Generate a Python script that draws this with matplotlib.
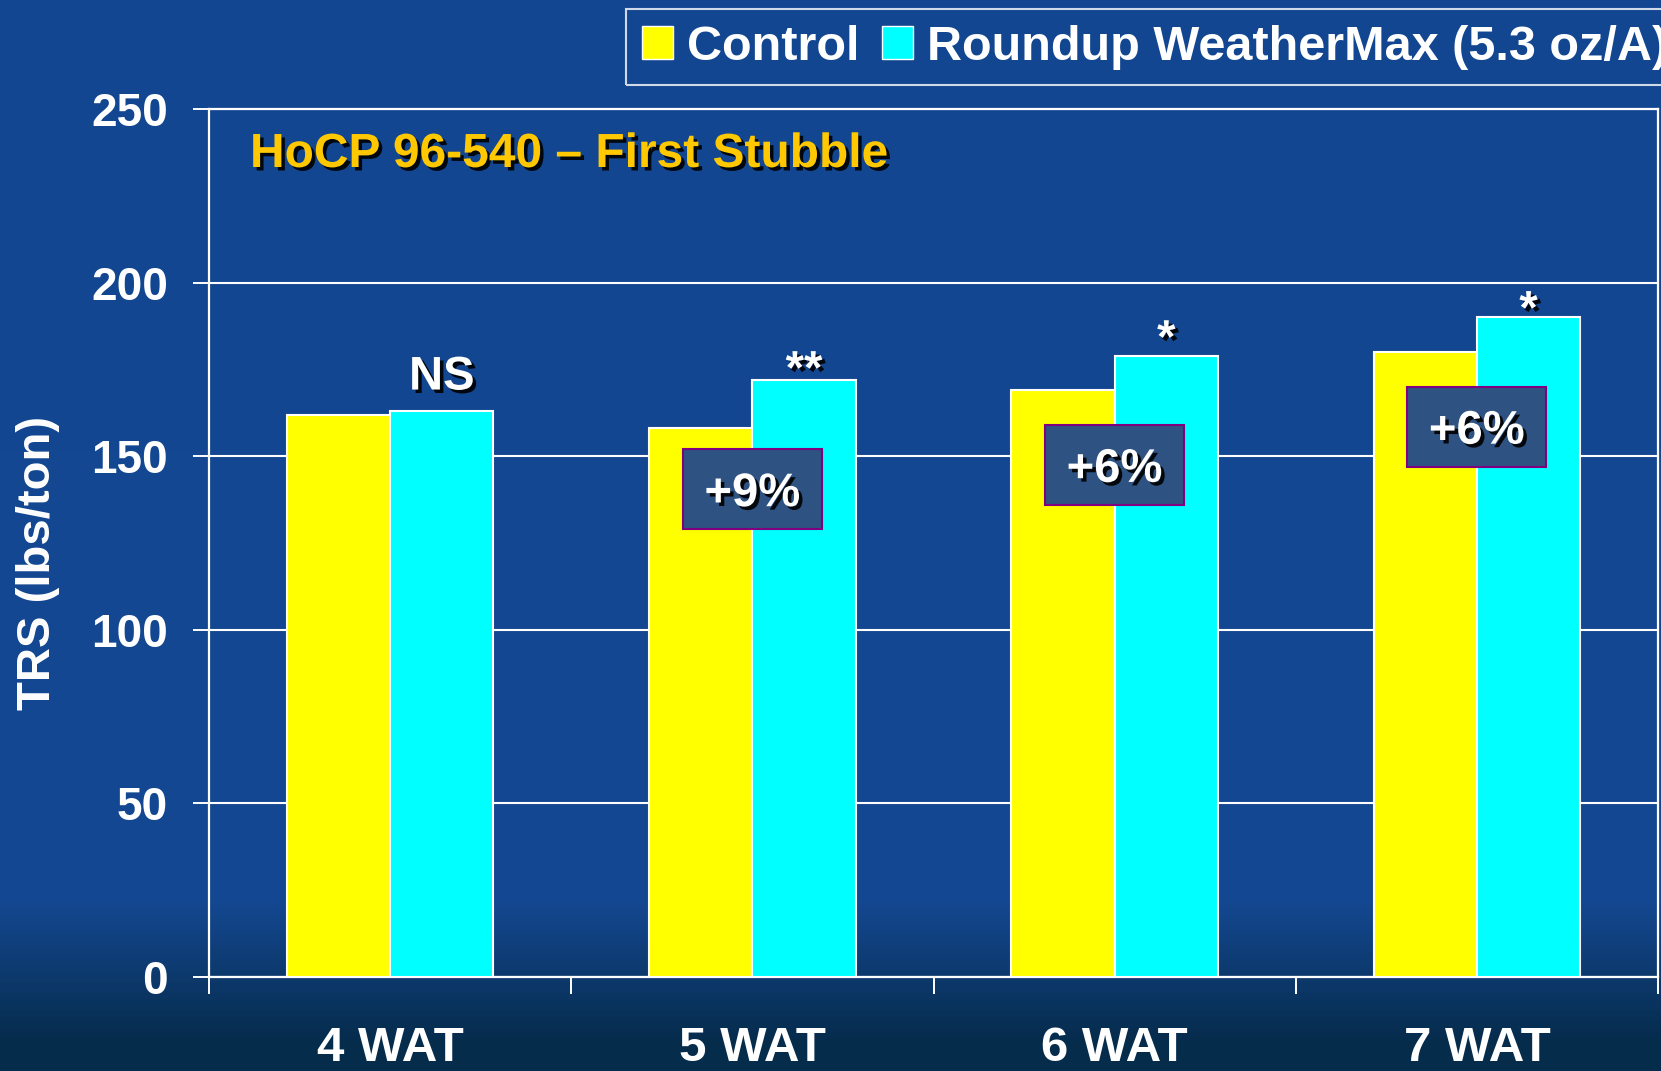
import numpy as np
import matplotlib
matplotlib.use("Agg")
import matplotlib.pyplot as plt
import matplotlib.patheffects as pe
from matplotlib.patches import Rectangle

# ---- data ----
categories = ["4 WAT", "5 WAT", "6 WAT", "7 WAT"]
control = [162, 158, 169, 180]
roundup = [163, 172, 179, 190]
series_names = ["Control", "Roundup WeatherMax (5.3 oz/A)"]
sig_labels = ["NS", "**", "*", "*"]
pct_labels = ["", "+9%", "+6%", "+6%"]
yticks = [0, 50, 100, 150, 200, 250]
title = "HoCP 96-540 \u2013 First Stubble"
ylabel = "TRS (lbs/ton)"

# ---- style ----
FONT = "Liberation Sans"
plt.rcParams["font.family"] = [FONT, "DejaVu Sans"]
plt.rcParams["font.weight"] = "bold"
W, H, DPI = 1661, 1071, 100
YELLOW = "#FFFF00"
CYAN = "#00FFFF"
GOLD = "#FFC800"
BOXFACE = "#2E5282"
BOXEDGE = "#800080"
FS = 34
shadow = [pe.withSimplePatchShadow(offset=(2.5, -2.5), shadow_rgbFace="black", alpha=0.9)]
sig_offsets = [6.2, -1.1, 0.8, -1.8]   # baseline offset from roundup bar top
box_w, box_h, box_drop = 0.384, 23.0, 31.5

fig = plt.figure(figsize=(W / DPI, H / DPI), dpi=DPI)

# background gradient
bg = fig.add_axes([0, 0, 1, 1], zorder=-10)
bg.set_axis_off()
t = np.linspace(0, 1, H)
top = np.array([19, 70, 145]) / 255
mid = np.array([20, 72, 146]) / 255
bot = np.array([6, 44, 76]) / 255
cols = np.empty((H, 1, 3))
for i, v in enumerate(t):
    if v < 0.84:
        c = top + (mid - top) * (v / 0.84)
    else:
        f = (v - 0.84) / 0.16
        f = min(1.0, f * 1.2)
        c = mid + (bot - mid) * f
    cols[i, 0] = c
bg.imshow(cols, aspect="auto", extent=[0, 1, 0, 1], origin="upper")
bg.set_xlim(0, 1)
bg.set_ylim(0, 1)

# main axes
L, R = 209 / W, 1658 / W
B, T = 1 - 977 / H, 1 - 109 / H
ax = fig.add_axes([L, B, R - L, T - B])
ax.set_facecolor("none")

x = np.arange(len(categories))
w = 0.285
b1 = ax.bar(x - w, control, width=w, align="edge", color=YELLOW, edgecolor="white",
            linewidth=1.5, zorder=3, label=series_names[0])
b2 = ax.bar(x, roundup, width=w, align="edge", color=CYAN, edgecolor="white",
            linewidth=1.5, zorder=3, label=series_names[1])

ax.set_xlim(-0.5, len(categories) - 0.5)
ax.set_ylim(yticks[0], yticks[-1])
ax.set_yticks(yticks)
ax.set_yticklabels([str(v) for v in yticks])
ax.yaxis.grid(True, color="white", linewidth=1.5, zorder=0)
ax.set_axisbelow(True)

# x: boundary ticks (major), category labels (minor)
ax.set_xticks(np.arange(len(categories) + 1) - 0.5)
ax.set_xticklabels([])
ax.set_xticks(x, minor=True)
ax.set_xticklabels(categories, minor=True)
ax.tick_params(axis="x", which="major", direction="out", length=12, width=1.4, color="white")
ax.tick_params(axis="x", which="minor", length=0, pad=35, labelsize=35.5, labelcolor="white")
ax.tick_params(axis="y", direction="out", length=11.5, width=1.4, color="white",
               pad=18, labelsize=33, labelcolor="white")
for lab in ax.get_xticklabels(minor=True) + ax.get_yticklabels():
    lab.set_fontweight("bold")

for s in ax.spines.values():
    s.set_color("white")
    s.set_linewidth(1.6)

ax.set_ylabel(ylabel, fontsize=FS, color="white", fontweight="bold")
ax.yaxis.label.set_va("center")
ax.yaxis.set_label_coords((38 - 209) / (1658 - 209), (977 - 563) / (977 - 109))

# title inside plot
ax.text((250 - 209) / (1658 - 209), (977 - 167) / (977 - 109), title, transform=ax.transAxes,
        ha="left", va="baseline", fontsize=34.5, color=GOLD, fontweight="bold",
        path_effects=shadow, zorder=6)

# significance labels
for xi, v, lab, off in zip(x, roundup, sig_labels, sig_offsets):
    ax.text(xi + w / 2, v + off, lab, ha="center", va="baseline", fontsize=FS,
            color="white", fontweight="bold", path_effects=shadow, zorder=6)

# percentage boxes
for xi, v, lab in zip(x, roundup, pct_labels):
    if not lab:
        continue
    cy = v - box_drop
    ax.add_patch(Rectangle((xi - box_w / 2, cy - box_h / 2), box_w, box_h,
                           facecolor=BOXFACE, edgecolor=BOXEDGE, linewidth=1.5, zorder=5))
    ax.text(xi, cy - 4.9, lab, ha="center", va="baseline", fontsize=FS, color="white",
            fontweight="bold", path_effects=shadow, zorder=6)

# legend
LFS = 35
leg = fig.legend(handles=[b1, b2], labels=series_names, loc="upper left",
                 bbox_to_anchor=(626 / W, 1 - 9 / H), bbox_transform=fig.transFigure,
                 ncol=2, frameon=True, fancybox=False, borderaxespad=0,
                 prop={"family": FONT, "weight": "bold", "size": LFS},
                 handlelength=0.64, handleheight=0.64, handletextpad=0.3,
                 columnspacing=0.45, borderpad=0.32, labelcolor="white")
leg.get_frame().set_facecolor("none")
leg.get_frame().set_edgecolor("white")
leg.get_frame().set_linewidth(1.5)
for h in leg.legend_handles:
    h.set_edgecolor("white")
    h.set_linewidth(1.0)

fig.savefig("out.png", dpi=DPI)
